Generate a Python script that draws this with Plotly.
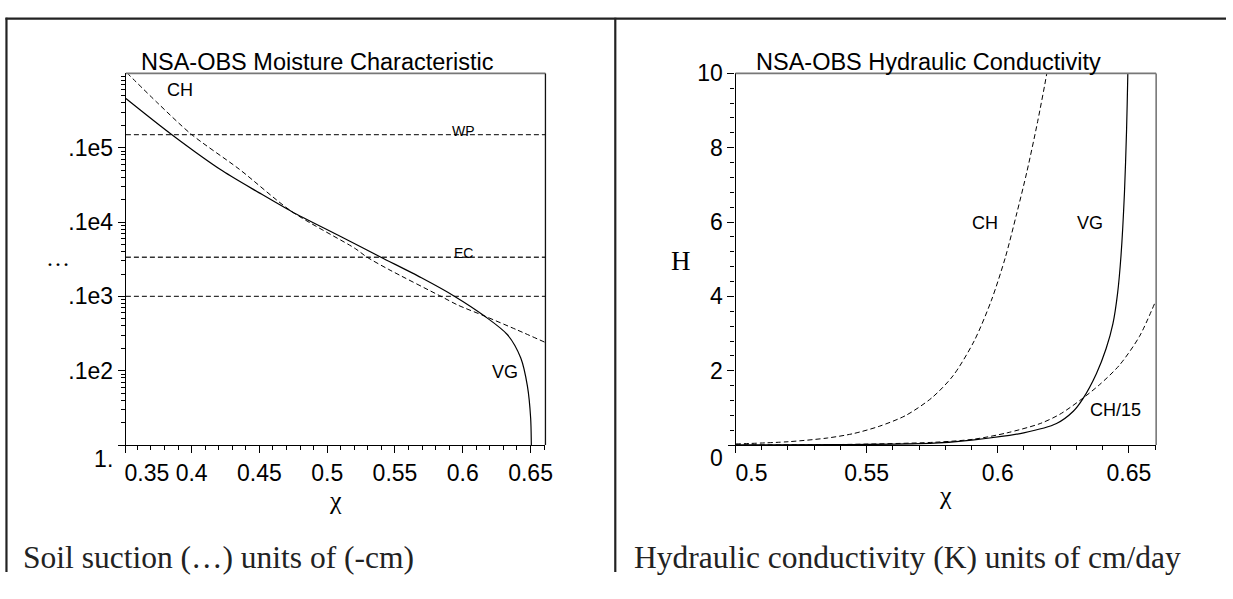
import math
import plotly.graph_objects as go

# ---------------- data ----------------
# Left panel: soil suction vs moisture (chi)
vg_theta = [0.3515, 0.3852, 0.4230, 0.4499, 0.4740, 0.5085, 0.5393, 0.5695,
            0.5941, 0.6160, 0.6330, 0.6428, 0.6477, 0.6501, 0.6506, 0.6507]
vg_psi = [46000, 15100, 4850, 2470, 1380, 660, 339, 178,
          100, 54.5, 30.5, 14.8, 6.2, 2.3, 1.0, 0.8]

ch_theta = [0.3522, 0.3750, 0.3999, 0.4352, 0.4740, 0.5207, 0.5292, 0.5451,
            0.5840, 0.5964, 0.6160, 0.6404, 0.6610]
ch_psi = [102000, 39800, 15100, 5130, 1380, 440, 339, 232,
          100, 76.4, 54.5, 35.2, 24.0]

level_names = ["WP", "EC", ""]
level_values = [15000, 336, 100]

# Right panel: hydraulic conductivity vs chi
kch_theta = [0.500, 0.520, 0.535, 0.545, 0.555, 0.565, 0.575, 0.583,
             0.591, 0.5975, 0.6029, 0.6073, 0.6111, 0.6152, 0.6187, 0.6200]
kch_val = [0.03, 0.09, 0.19, 0.31, 0.51, 0.80, 1.28, 1.87,
           2.80, 3.88, 5.05, 6.25, 7.35, 8.70, 10.0, 10.6]

kch15_theta = [0.500, 0.540, 0.5757, 0.591, 0.6036, 0.6162, 0.6237, 0.6313,
               0.6389, 0.6464, 0.654, 0.660]
kch15_val = [0.005, 0.015, 0.075, 0.16, 0.33, 0.58, 0.83, 1.20,
             1.63, 2.15, 2.92, 3.84]

kvg_theta = [0.500, 0.540, 0.5757, 0.591, 0.6099, 0.6224, 0.6288, 0.6325,
             0.6376, 0.6413, 0.6439, 0.6457, 0.6470, 0.6483, 0.6491, 0.6496, 0.6498]
kvg_val = [0.003, 0.01, 0.05, 0.14, 0.33, 0.58, 0.91, 1.25,
           1.92, 2.59, 3.26, 4.09, 5.10, 6.77, 8.44, 10.0, 11.0]

left_xrange = [0.3515, 0.661]
left_ylog = [0, 5.0]
right_xrange = [0.5, 0.6604]
right_yrange = [0, 10]

left_xticks = [0.4, 0.45, 0.5, 0.55, 0.6, 0.65]
left_xticktext = ["0.4", "0.45", "0.5", "0.55", "0.6", "0.65"]
left_yticks = [10, 100, 1000, 10000]
left_yticktext = [".1e2", ".1e3", ".1e4", ".1e5"]
right_xticks = [0.55, 0.6, 0.65]
right_xticktext = ["0.55", "0.6", "0.65"]
right_yticks = [2, 4, 6, 8, 10]
right_yticktext = ["2", "4", "6", "8", "10"]

# ---------------- figure ----------------
W, H = 1233, 599
SANS = "Liberation Sans, Arial, Helvetica, sans-serif"
SERIF = "Liberation Serif, Times New Roman, serif"
DASH = "5px,3px"


def px(x):
    return x / W


def py(y):
    return 1 - y / H


fig = go.Figure()

# reference levels
for name, val in zip(level_names, level_values):
    fig.add_trace(go.Scatter(x=left_xrange, y=[val, val], mode="lines",
                             line=dict(color="#333", width=1.3, dash=DASH),
                             xaxis="x", yaxis="y", showlegend=False, hoverinfo="skip"))

fig.add_trace(go.Scatter(x=ch_theta, y=ch_psi, mode="lines",
                         line=dict(color="black", width=1, dash=DASH, shape="spline", smoothing=0.8),
                         xaxis="x", yaxis="y", showlegend=False))
fig.add_trace(go.Scatter(x=vg_theta, y=vg_psi, mode="lines",
                         line=dict(color="black", width=1.2, shape="spline", smoothing=0.8),
                         xaxis="x", yaxis="y", showlegend=False))

fig.add_trace(go.Scatter(x=kch_theta, y=kch_val, mode="lines",
                         line=dict(color="black", width=1, dash=DASH, shape="spline", smoothing=0.8),
                         xaxis="x2", yaxis="y2", showlegend=False))
fig.add_trace(go.Scatter(x=kch15_theta, y=kch15_val, mode="lines",
                         line=dict(color="black", width=1, dash=DASH, shape="spline", smoothing=0.8),
                         xaxis="x2", yaxis="y2", showlegend=False))
fig.add_trace(go.Scatter(x=kvg_theta, y=kvg_val, mode="lines",
                         line=dict(color="black", width=1.2, shape="spline", smoothing=0.8),
                         xaxis="x2", yaxis="y2", showlegend=False))

# dummy traces for overlay axes (shifted end labels)
fig.add_trace(go.Scatter(x=[None], y=[None], xaxis="x3", yaxis="y3", showlegend=False))
fig.add_trace(go.Scatter(x=[None], y=[None], xaxis="x4", yaxis="y4", showlegend=False))

ydom = [py(463), py(64.7)]
ldom = [px(125.7), px(548)]
rdom = [px(739.3), px(1162.7)]

tickfont = dict(family=SANS, size=23, color="black")
common = dict(showgrid=False, zeroline=False, ticks="outside", ticklen=7, tickwidth=1.2,
              tickcolor="black", tickfont=tickfont)
chi_title = dict(text="χ", font=dict(family=SERIF, size=26, color="black"), standoff=0)

fig.update_layout(
    width=W, height=H, margin=dict(l=0, r=0, t=0, b=0),
    paper_bgcolor="white", plot_bgcolor="white", showlegend=False,
    xaxis=dict(domain=ldom, anchor="y", range=left_xrange, tickmode="array",
               tickvals=left_xticks, ticktext=left_xticktext, title=chi_title,
               showline=True, linecolor="black", linewidth=1.3,
               minor=dict(dtick=0.01, tick0=0.35, ticks="outside", ticklen=4, tickcolor="black"),
               **common),
    yaxis=dict(domain=ydom, anchor="x", type="log", range=left_ylog, tickmode="array",
               tickvals=left_yticks, ticktext=left_yticktext,
               showline=True, linecolor="black", linewidth=1.3,
               minor=dict(tickmode="array",
                          tickvals=[k * 10 ** d for d in range(0, 5) for k in range(2, 10)],
                          ticks="outside", ticklen=4, tickcolor="black"),
               **common),
    xaxis3=dict(overlaying="x", anchor="y", range=left_xrange, tickmode="array",
                tickvals=[left_xrange[0]], ticktext=["0.35"], ticklabelshift=21,
                showline=False, **common),
    yaxis3=dict(overlaying="y", anchor="x", type="log", range=left_ylog, tickmode="array",
                tickvals=[1], ticktext=["1."], ticklabelshift=14,
                showline=False, **common),
    xaxis2=dict(domain=rdom, anchor="y2", range=right_xrange, tickmode="array",
                tickvals=right_xticks, ticktext=right_xticktext, title=chi_title,
                showline=True, linecolor="black", linewidth=1.3,
                minor=dict(dtick=0.01, tick0=0.5, ticks="outside", ticklen=4, tickcolor="black"),
                **common),
    yaxis2=dict(domain=ydom, anchor="x2", range=right_yrange, tickmode="array",
                tickvals=right_yticks, ticktext=right_yticktext,
                showline=True, linecolor="black", linewidth=1.3,
                minor=dict(dtick=0.4, tick0=0, ticks="outside", ticklen=4, tickcolor="black"),
                **common),
    xaxis4=dict(overlaying="x2", anchor="y2", range=right_xrange, tickmode="array",
                tickvals=[right_xrange[0]], ticktext=["0.5"], ticklabelshift=16,
                showline=False, **common),
    yaxis4=dict(overlaying="y2", anchor="x2", range=right_yrange, tickmode="array",
                tickvals=[0], ticktext=["0"], ticklabelshift=13,
                showline=False, **common),
)

shapes = []
# plot frames (top / right)
shapes.append(dict(type="line", xref="x domain", yref="y domain", x0=0, x1=1, y0=1, y1=1,
                   line=dict(color="#777", width=1.6)))
shapes.append(dict(type="line", xref="x domain", yref="y domain", x0=1, x1=1, y0=0, y1=1,
                   line=dict(color="#111", width=1.3)))
shapes.append(dict(type="line", xref="x2 domain", yref="y2 domain", x0=0, x1=1, y0=1, y1=1,
                   line=dict(color="#777", width=1.6)))
shapes.append(dict(type="line", xref="x2 domain", yref="y2 domain", x0=1, x1=1, y0=0, y1=1,
                   line=dict(color="#777", width=1.6)))
# table borders
shapes.append(dict(type="line", xref="paper", yref="paper", x0=px(4.5), x1=1, y0=py(6), y1=py(6),
                   line=dict(color="#222", width=2.2)))
shapes.append(dict(type="line", xref="paper", yref="paper", x0=px(5.5), x1=px(5.5), y0=0, y1=py(5),
                   line=dict(color="#222", width=2.2)))
shapes.append(dict(type="line", xref="paper", yref="paper", x0=px(618.3), x1=px(618.3), y0=0, y1=py(5),
                   line=dict(color="#222", width=2.2)))
fig.update_layout(shapes=shapes)

ann = []


def paper_text(text, x, y, size, family, xanchor="center", color="black"):
    ann.append(dict(text=text, x=px(x), y=py(y), xref="paper", yref="paper", showarrow=False,
                    xanchor=xanchor, yanchor="middle", font=dict(family=family, size=size, color=color)))


paper_text("NSA-OBS Moisture Characteristic", 319, 52, 23.5, SANS)
paper_text("NSA-OBS Hydraulic Conductivity", 934, 52, 23.5, SANS)
paper_text("…", 57, 262, 24, SERIF)
paper_text("H", 684, 266, 27, SERIF)
paper_text("Soil suction (…) units of (-cm)", 20, 583, 31.5, SERIF, xanchor="left", color="#222")
paper_text("Hydraulic conductivity (K) units of cm/day", 635, 583, 31.5, SERIF, xanchor="left", color="#222")

# curve / level labels in data coordinates
ann.append(dict(text="CH", x=0.3913, y=4.78, xref="x", yref="y", showarrow=False,
                font=dict(family=SANS, size=18, color="black")))
ann.append(dict(text="VG", x=0.6308, y=0.98, xref="x", yref="y", showarrow=False,
                font=dict(family=SANS, size=18, color="black")))
ann.append(dict(text=level_names[0], x=0.6004, y=math.log10(level_values[0]), xref="x", yref="y",
                showarrow=False, yshift=4, font=dict(family=SANS, size=14, color="black")))
ann.append(dict(text=level_names[1], x=0.6008, y=math.log10(level_values[1]), xref="x", yref="y",
                showarrow=False, yshift=4, font=dict(family=SANS, size=14, color="black")))
ann.append(dict(text="CH", x=0.5951, y=5.98, xref="x2", yref="y2", showarrow=False,
                font=dict(family=SANS, size=18, color="black")))
ann.append(dict(text="VG", x=0.6352, y=5.98, xref="x2", yref="y2", showarrow=False,
                font=dict(family=SANS, size=18, color="black")))
ann.append(dict(text="CH/15", x=0.6450, y=0.95, xref="x2", yref="y2", showarrow=False,
                font=dict(family=SANS, size=18, color="black")))
fig.update_layout(annotations=ann)

fig.write_html("out.html")
